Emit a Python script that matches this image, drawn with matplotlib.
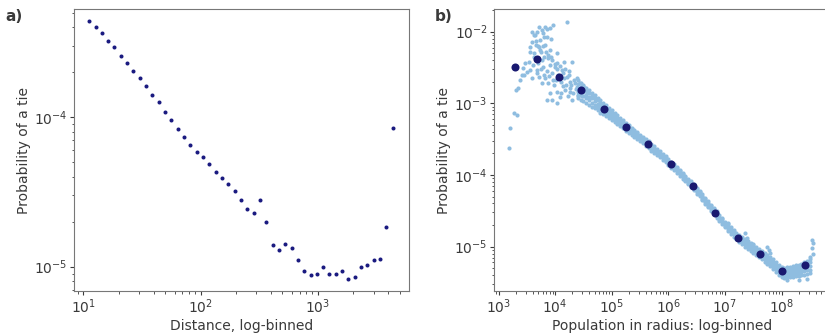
import numpy as np
import matplotlib.pyplot as plt

# panel a: distance bins vs probability of a tie
distance = [11.2, 12.7, 14.3, 16.2, 18.4, 20.8, 23.6, 26.7, 30.2, 34.2,
            38.7, 43.9, 49.7, 56.2, 63.7, 72.1, 81.7, 92.5, 104.7, 118.6,
            134.3, 152, 172, 195, 221, 250, 283, 321, 363, 411,
            466, 527, 597, 676, 766, 867, 982, 1110, 1257, 1423,
            1612, 1825, 2067, 2340, 2650, 3000, 3397, 3846, 4385]
prob_dist = [4.38e-4, 4.03e-4, 3.65e-4, 3.26e-4, 2.94e-4, 2.59e-4, 2.30e-4, 2.04e-4, 1.83e-4, 1.62e-4,
             1.42e-4, 1.27e-4, 1.09e-4, 9.6e-5, 8.3e-5, 7.4e-5, 6.5e-5, 5.9e-5, 5.45e-5, 4.87e-5,
             4.33e-5, 3.93e-5, 3.60e-5, 3.19e-5, 2.78e-5, 2.42e-5, 2.30e-5, 2.78e-5, 1.99e-5, 1.39e-5,
             1.30e-5, 1.41e-5, 1.33e-5, 1.10e-5, 9.4e-6, 8.75e-6, 9.0e-6, 9.9e-6, 9.0e-6, 8.93e-6,
             9.4e-6, 8.3e-6, 8.57e-6, 1.0e-5, 1.02e-5, 1.11e-5, 1.12e-5, 1.85e-5, 8.44e-5]

# panel b: log-binned means
pop_bins = [1.97e3, 4.8e3, 1.18e4, 2.9e4, 7.2e4, 1.79e5, 4.4e5, 1.10e6, 2.72e6, 6.7e6,
            1.67e7, 4.15e7, 1.03e8, 2.55e8]
prob_bins = [3.25e-3, 4.11e-3, 2.36e-3, 1.52e-3, 8.43e-4, 4.68e-4, 2.68e-4, 1.44e-4, 7.1e-5, 2.92e-5,
             1.32e-5, 7.9e-6, 4.53e-6, 5.55e-6]

# panel b: raw points (read as log10 exponents)
scatter_log_pop = [3.19, 3.21, 3.28, 3.32, 3.31, 3.35, 3.38, 3.41, 3.44, 3.47, 3.50, 3.45,
                   4.21, 3.97, 3.91, 3.82, 3.77, 3.68, 3.59, 3.65, 3.79, 3.85,
                   3.74, 3.59, 3.56, 3.71, 3.82, 3.91, 4.03, 3.88, 3.77, 3.62,
                   3.56, 3.53, 3.56, 3.68, 3.79, 3.91, 4.03, 4.15, 4.29, 3.59,
                   3.71, 3.82, 3.77, 3.88, 3.97, 4.12, 4.21, 4.26, 4.38, 4.03,
                   3.94, 4.03, 3.85, 4.09, 4.18, 4.26, 4.38, 4.50, 4.32, 4.41, 4.56,
                   3.62, 3.70, 3.85, 3.95, 4.05, 4.10, 4.15, 4.20, 3.98, 4.10,
                   4.22, 4.30, 3.90, 3.80, 3.68, 4.00, 4.25, 4.35, 4.45, 4.40,
                   3.75, 3.80, 3.95, 3.66, 3.72, 3.86, 3.80, 3.92, 3.70,
                   3.63, 3.67, 3.73, 3.78, 3.83, 3.88, 3.93, 3.99, 4.04, 4.08,
                   4.13, 4.18, 4.24, 4.28, 4.33, 3.61, 3.75, 3.89, 4.01, 4.14,
                   4.27, 4.36, 4.44, 4.48, 4.52,
                   7.35, 7.38, 7.74, 7.77, 7.79, 7.73, 8.53, 8.55, 8.53, 8.56,
                   8.50, 8.45, 7.05, 7.50, 8.10, 8.30]
scatter_log_prob = [-3.63, -3.34, -3.13, -3.17, -2.81, -2.78, -2.67, -2.60, -2.51, -2.44, -2.56, -2.60,
                    -1.86, -1.91, -1.95, -1.93, -1.98, -2.00, -2.00, -2.05, -2.02, -2.07,
                    -2.12, -2.14, -2.21, -2.21, -2.19, -2.26, -2.30, -2.37, -2.40, -2.35,
                    -2.28, -2.42, -2.54, -2.54, -2.49, -2.47, -2.44, -2.42, -2.42, -2.65,
                    -2.63, -2.65, -2.72, -2.72, -2.67, -2.54, -2.63, -2.70, -2.65, -2.84,
                    -2.95, -3.00, -2.95, -2.91, -2.81, -2.79, -2.77, -2.74, -2.86, -2.93, -2.84,
                    -2.30, -2.44, -2.55, -2.58, -2.60, -2.70, -2.65, -2.75, -2.75, -2.85,
                    -2.90, -2.95, -2.85, -2.60, -2.58, -2.50, -2.55, -2.72, -2.82, -2.88,
                    -2.28, -2.35, -2.40, -2.13, -1.94, -1.96, -2.07, -2.10, -2.20,
                    -2.05, -2.18, -2.25, -2.20, -2.28, -2.33, -2.36, -2.45, -2.52, -2.48,
                    -2.58, -2.52, -2.60, -2.75, -2.68, -2.47, -2.52, -2.62, -2.68, -2.76,
                    -2.84, -2.80, -2.72, -2.90, -2.78,
                    -4.81, -4.88, -5.00, -5.05, -5.09, -5.14, -4.91, -4.95, -5.02, -5.10,
                    -5.15, -5.45, -4.67, -4.96, -5.46, -5.46]

# dense band: x position with rows across the cloud, from its upper to lower edge
band_log_pop = [4.40, 4.45, 4.50, 4.55, 4.60, 4.65, 4.70, 4.75, 4.80, 4.85, 4.90, 4.95,
                5.00, 5.05, 5.10, 5.15, 5.20, 5.25, 5.30, 5.35, 5.40, 5.45, 5.50, 5.55, 5.60, 5.65, 5.70, 5.75, 5.80, 5.85, 5.90, 5.95,
                6.00, 6.05, 6.10, 6.15, 6.20, 6.25, 6.30, 6.35, 6.40, 6.45, 6.50, 6.55, 6.60, 6.65, 6.70, 6.75, 6.80, 6.85, 6.90, 6.95,
                7.00, 7.05, 7.10, 7.15, 7.20, 7.25, 7.30, 7.35, 7.40, 7.45, 7.50, 7.55, 7.60, 7.65, 7.70, 7.75, 7.80, 7.85, 7.90, 7.95,
                8.00, 8.05, 8.10, 8.15, 8.20, 8.25, 8.30, 8.35, 8.40, 8.45, 8.50]
band_hi = [-2.68, -2.72, -2.76, -2.78, -2.81, -2.85, -2.88, -2.92, -2.96, -3.00, -3.03, -3.07,
           -3.10, -3.13, -3.17, -3.20, -3.24, -3.27, -3.30, -3.34, -3.37, -3.40, -3.44, -3.47, -3.50, -3.53, -3.57, -3.60, -3.64, -3.67, -3.71, -3.74,
           -3.78, -3.82, -3.85, -3.89, -3.93, -3.97, -4.01, -4.05, -4.09, -4.13, -4.18, -4.22, -4.27, -4.32, -4.37, -4.42, -4.46, -4.51, -4.56, -4.60,
           -4.65, -4.69, -4.73, -4.77, -4.81, -4.84, -4.87, -4.89, -4.92, -4.95, -4.98, -5.01, -5.03, -5.06, -5.09, -5.12, -5.15, -5.18, -5.22, -5.26,
           -5.28, -5.30, -5.29, -5.28, -5.27, -5.26, -5.25, -5.24, -5.22, -5.20, -5.18]
band_hi2 = [-2.73, -2.77, -2.80, -2.83, -2.86, -2.89, -2.92, -2.96, -3.00, -3.03, -3.06, -3.10,
            -3.13, -3.16, -3.20, -3.23, -3.26, -3.30, -3.33, -3.36, -3.39, -3.42, -3.46, -3.49, -3.52, -3.55, -3.59, -3.62, -3.66, -3.69, -3.73, -3.76,
            -3.80, -3.84, -3.87, -3.91, -3.95, -3.99, -4.03, -4.07, -4.11, -4.15, -4.20, -4.24, -4.29, -4.34, -4.39, -4.44, -4.48, -4.53, -4.58, -4.62,
            -4.67, -4.71, -4.75, -4.79, -4.83, -4.86, -4.90, -4.92, -4.95, -4.98, -5.00, -5.03, -5.06, -5.09, -5.12, -5.15, -5.18, -5.22, -5.25, -5.29,
            -5.31, -5.33, -5.32, -5.31, -5.30, -5.29, -5.29, -5.28, -5.26, -5.24, -5.22]
band_mid = [-2.78, -2.82, -2.84, -2.88, -2.91, -2.93, -2.97, -3.01, -3.04, -3.07, -3.10, -3.13,
            -3.16, -3.20, -3.23, -3.26, -3.29, -3.33, -3.36, -3.39, -3.42, -3.45, -3.48, -3.52, -3.55, -3.58, -3.61, -3.64, -3.68, -3.71, -3.75, -3.78,
            -3.82, -3.86, -3.89, -3.93, -3.97, -4.01, -4.05, -4.09, -4.13, -4.17, -4.22, -4.26, -4.31, -4.36, -4.41, -4.46, -4.51, -4.55, -4.60, -4.64,
            -4.69, -4.73, -4.77, -4.81, -4.85, -4.88, -4.92, -4.95, -4.98, -5.01, -5.03, -5.06, -5.09, -5.12, -5.15, -5.18, -5.21, -5.25, -5.28, -5.32,
            -5.35, -5.37, -5.36, -5.35, -5.34, -5.33, -5.33, -5.32, -5.30, -5.28, -5.27]
band_lo2 = [-2.84, -2.88, -2.90, -2.93, -2.96, -2.99, -3.02, -3.05, -3.08, -3.11, -3.14, -3.17,
            -3.19, -3.23, -3.26, -3.29, -3.32, -3.35, -3.38, -3.41, -3.44, -3.47, -3.50, -3.54, -3.57, -3.60, -3.63, -3.66, -3.70, -3.73, -3.77, -3.80,
            -3.84, -3.88, -3.91, -3.95, -3.99, -4.03, -4.07, -4.11, -4.15, -4.19, -4.24, -4.28, -4.33, -4.38, -4.43, -4.48, -4.53, -4.57, -4.62, -4.66,
            -4.71, -4.75, -4.79, -4.83, -4.87, -4.91, -4.94, -4.97, -5.00, -5.03, -5.06, -5.09, -5.12, -5.15, -5.18, -5.21, -5.24, -5.28, -5.31, -5.35,
            -5.38, -5.40, -5.39, -5.38, -5.38, -5.37, -5.37, -5.36, -5.34, -5.33, -5.32]
band_lo = [-2.90, -2.95, -2.97, -2.99, -3.02, -3.05, -3.07, -3.10, -3.13, -3.15, -3.18, -3.21,
           -3.23, -3.26, -3.29, -3.32, -3.35, -3.38, -3.41, -3.44, -3.47, -3.50, -3.53, -3.56, -3.59, -3.62, -3.66, -3.69, -3.72, -3.75, -3.79, -3.82,
           -3.86, -3.90, -3.93, -3.97, -4.01, -4.05, -4.09, -4.13, -4.17, -4.21, -4.26, -4.30, -4.35, -4.40, -4.45, -4.50, -4.55, -4.60, -4.64, -4.69,
           -4.73, -4.78, -4.82, -4.86, -4.90, -4.94, -4.97, -5.00, -5.03, -5.06, -5.09, -5.12, -5.15, -5.18, -5.21, -5.24, -5.27, -5.31, -5.35, -5.39,
           -5.42, -5.44, -5.43, -5.42, -5.42, -5.41, -5.41, -5.40, -5.39, -5.38, -5.37]

TEXT = '#3a3a3a'
plt.rcParams['font.size'] = 10
plt.rcParams['text.color'] = TEXT
plt.rcParams['axes.labelcolor'] = TEXT
plt.rcParams['xtick.color'] = TEXT
plt.rcParams['ytick.color'] = TEXT
plt.rcParams['axes.edgecolor'] = '#777777'
plt.rcParams['xtick.major.pad'] = 1.5
plt.rcParams['ytick.major.pad'] = 1.5
plt.rcParams['xtick.major.size'] = 3
plt.rcParams['ytick.major.size'] = 3
plt.rcParams['xtick.minor.size'] = 1.8
plt.rcParams['ytick.minor.size'] = 1.8
plt.rcParams['axes.labelpad'] = 2

fig = plt.figure(figsize=(8.25, 3.35), dpi=100)
ax1 = fig.add_axes([0.0897, 0.1313, 0.406, 0.8418])
ax2 = fig.add_axes([0.5988, 0.1313, 0.407, 0.8418])

# a)
ax1.plot(distance, prob_dist, 'o', color='#1a1a80', markersize=2.9, markeredgewidth=0)
ax1.set_xscale('log')
ax1.set_yscale('log')
ax1.set_xlim(10**0.92, 10**3.778)
ax1.set_ylim(10**-5.163, 10**-3.275)
ax1.set_xlabel('Distance, log-binned')
ax1.set_ylabel('Probability of a tie')

# b)
lx = np.concatenate([scatter_log_pop] + [band_log_pop] * 5)
ly = np.concatenate([scatter_log_prob, band_hi, band_hi2, band_mid, band_lo2, band_lo])
ax2.plot(10**lx, 10**ly, 'o', color='#8fbde0', markersize=3.0, markeredgewidth=0)
ax2.plot(pop_bins, prob_bins, 'o', color='#191970', markersize=5.8, markeredgewidth=0)
ax2.set_xscale('log')
ax2.set_yscale('log')
ax2.set_xlim(10**2.92, 10**8.85)
ax2.set_ylim(10**-5.62, 10**-1.684)
ax2.set_xlabel('Population in radius: log-binned')
ax2.set_ylabel('Probability of a tie')

fig.text(0.007, 0.952, 'a)', fontweight='bold', fontsize=11, va='center')
fig.text(0.527, 0.952, 'b)', fontweight='bold', fontsize=11, va='center')

fig.savefig('out.png', dpi=100)
